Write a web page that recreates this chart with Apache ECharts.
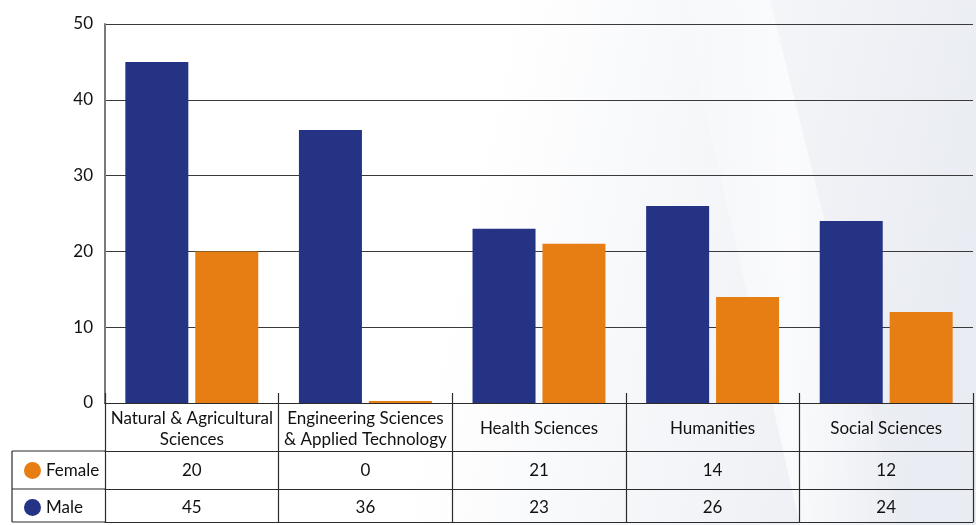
<!DOCTYPE html>
<html>
<head>
<meta charset="utf-8">
<script src="https://cdn.jsdelivr.net/npm/echarts@6/dist/echarts.min.js"></script>
<style>
  html, body { margin: 0; padding: 0; background: #fff; }
  #chart { width: 976px; height: 525px; }
</style>
</head>
<body>
<div id="chart"></div>
<script>
// categories + values
const categories = [
  'Natural & Agricultural\nSciences',
  'Engineering Sciences\n& Applied Technology',
  'Health Sciences',
  'Humanities',
  'Social Sciences'
]
const maleValues = [45, 36, 23, 26, 24]
const femaleValues = [20, 0, 21, 14, 12]
const yTicks = [0, 10, 20, 30, 40, 50]

const NAVY = '#253384'
const ORANGE = '#e67e13'
const LINE = '#2b2b2b'
const TEXT = '#111'
const FONT = 'Lato'
const FS = 17

const chart = echarts.init(document.getElementById('chart'))

// table row axis (just a line + labels under the plot)
function rowAxis (offset, margin, labels, showLabel) {
  return {
    type: 'category',
    data: categories,
    position: 'bottom',
    offset: offset,
    axisLine: { show: true, lineStyle: { color: LINE, width: 1.2 } },
    axisTick: { show: false },
    axisLabel: {
      show: showLabel,
      interval: 0,
      margin: margin,
      verticalAlign: 'middle',
      fontFamily: FONT,
      fontSize: FS,
      color: TEXT,
      formatter: (v, i) => labels ? String(labels[i]) : ''
    }
  }
}

// one legend per table row so they stack like the reference
function rowLegend (name, top) {
  return {
    data: [name],
    left: 19,
    top: top,
    icon: 'circle',
    itemWidth: 17,
    itemHeight: 17,
    selectedMode: false,
    textStyle: { fontFamily: FONT, fontSize: FS, color: TEXT }
  }
}

const option = {
  backgroundColor: {
    type: 'linear', x: 0, y: 0, x2: 1, y2: 0.4,
    colorStops: [
      { offset: 0, color: '#ffffff' },
      { offset: 0.5, color: '#ffffff' },
      { offset: 1, color: '#e9ecf2' }
    ]
  },
  animation: false,
  graphic: [
    // soft white swoosh in the background
    {
      type: 'polygon', z: -10, silent: true,
      shape: { points: [[680, 0], [770, 0], [900, 525], [800, 525]] },
      style: {
        fill: {
          type: 'linear', x: 0, y: 0, x2: 1, y2: 0,
          colorStops: [
            { offset: 0, color: 'rgba(255,255,255,0)' },
            { offset: 0.5, color: 'rgba(255,255,255,0.7)' },
            { offset: 1, color: 'rgba(255,255,255,0)' }
          ]
        }
      }
    },
    // left column of the data table
    { type: 'line', shape: { x1: 12, y1: 451, x2: 105, y2: 451 }, style: { stroke: LINE, lineWidth: 1.2 } },
    { type: 'line', shape: { x1: 12, y1: 489, x2: 105, y2: 489 }, style: { stroke: LINE, lineWidth: 1.2 } },
    { type: 'line', shape: { x1: 12, y1: 522, x2: 105, y2: 522 }, style: { stroke: LINE, lineWidth: 1.2 } },
    { type: 'line', shape: { x1: 12, y1: 451, x2: 12, y2: 522 }, style: { stroke: LINE, lineWidth: 1.2 } }
  ],
  legend: [rowLegend('Female', 457), rowLegend('Male', 494)],
  grid: { left: 105, right: 3, top: 24, bottom: 122 },
  xAxis: [
    {
      type: 'category',
      data: categories,
      axisLine: { show: true, lineStyle: { color: LINE, width: 1.2 } },
      axisTick: { show: true, length: 119, lineStyle: { color: LINE, width: 1.2 } },
      axisLabel: {
        interval: 0,
        margin: 26,
        verticalAlign: 'middle',
        align: 'center',
        lineHeight: 21,
        fontFamily: FONT,
        fontSize: FS,
        color: TEXT
      }
    },
    rowAxis(48, 20, femaleValues, true),
    rowAxis(86, 19, maleValues, true),
    rowAxis(119, 0, null, false),
    {
      // short stubs above the base line
      type: 'category',
      data: categories,
      position: 'bottom',
      axisLine: { show: false },
      axisTick: { show: true, inside: true, length: 10, lineStyle: { color: LINE, width: 1.2 } },
      axisLabel: { show: false }
    }
  ],
  yAxis: {
    type: 'value',
    min: 0,
    max: 50,
    interval: 10,
    axisLine: { show: true, lineStyle: { color: '#7a7a7a', width: 2 } },
    axisTick: { show: false },
    axisLabel: {
      margin: 12,
      fontFamily: FONT,
      fontSize: FS,
      color: TEXT,
      formatter: v => yTicks.includes(v) ? String(v) : ''
    },
    splitLine: { show: true, lineStyle: { color: '#3a3a3a', width: 1.2 } }
  },
  series: [
    {
      name: 'Male',
      type: 'bar',
      data: maleValues,
      barWidth: 63,
      barGap: '11%',
      itemStyle: { color: NAVY }
    },
    {
      name: 'Female',
      type: 'bar',
      data: femaleValues,
      barWidth: 63,
      barMinHeight: 2,
      itemStyle: { color: ORANGE }
    }
  ]
}

chart.setOption(option)
</script>
</body>
</html>
